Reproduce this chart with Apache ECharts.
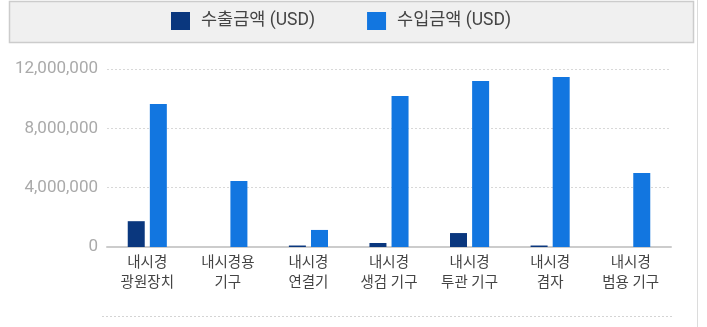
<!DOCTYPE html>
<html>
<head>
<meta charset="utf-8">
<script src="https://cdn.jsdelivr.net/npm/echarts@6/dist/echarts.min.js"></script>
<style>
html,body{margin:0;padding:0;background:#fff;}
#c{width:707px;height:327px;}
</style>
</head>
<body>
<div id="c"></div>
<script>
// Product categories (x axis)
const categories = ['내시경\n광원장치', '내시경용\n기구', '내시경\n연결기', '내시경\n생검 기구', '내시경\n투관 기구', '내시경\n겸자', '내시경\n범용 기구'];
// Export amount (USD)
const exportValues = [1740000, 0, 100000, 270000, 940000, 100000, 0];
// Import amount (USD)
const importValues = [9640000, 4450000, 1150000, 10180000, 11190000, 11460000, 4990000];
const seriesNames = ['수출금액 (USD)', '수입금액 (USD)'];

const FONT = "Roboto, 'Noto Sans CJK KR', sans-serif";
const chart = echarts.init(document.getElementById('c'), null, {renderer: 'canvas'});
chart.setOption({
  animation: false,
  textStyle: {fontFamily: FONT},
  graphic: [
    {type: 'rect', z: -1, shape: {x: 9.5, y: 1.5, width: 684, height: 41},
     style: {fill: '#f0f0f0', stroke: '#cccccc', lineWidth: 1.5}},
    {type: 'line', shape: {x1: 697.5, y1: 0, x2: 697.5, y2: 327},
     style: {stroke: '#dcdcdc', lineWidth: 1}},
    {type: 'line', shape: {x1: 102, y1: 316.5, x2: 674, y2: 316.5},
     style: {stroke: '#d4d4d4', lineWidth: 1, lineDash: [2, 2]}}
  ],
  legend: {
    top: 12, left: 171, padding: 0,
    itemWidth: 19, itemHeight: 18, itemGap: 52,
    icon: 'rect',
    textStyle: {fontSize: 17.5, color: '#444', fontFamily: FONT, padding: [0, 0, 0, 6]},
    data: seriesNames
  },
  grid: {left: 107, right: 36, top: 69, bottom: 80, containLabel: false},
  xAxis: {
    type: 'category',
    data: categories,
    axisTick: {show: false},
    axisLine: {lineStyle: {color: '#cccccc', width: 2}},
    axisLabel: {fontSize: 14.5, color: '#444', lineHeight: 20, margin: 6, interval: 0, fontFamily: FONT}
  },
  yAxis: {
    type: 'value',
    min: 0, max: 12000000, interval: 4000000,
    axisLine: {show: false},
    axisTick: {show: false},
    splitLine: {lineStyle: {color: '#d8d8d8', type: [2, 2]}},
    axisLabel: {
      fontSize: 17, margin: 9, fontFamily: FONT,
      color: function (v) { return v === 0 ? '#555' : '#aaaaaa'; },
      formatter: function (v) { return v.toLocaleString('en-US'); }
    }
  },
  series: [
    {name: seriesNames[0], type: 'bar', data: exportValues, barWidth: 17, barGap: '30%',
     itemStyle: {color: '#0a377e'}},
    {name: seriesNames[1], type: 'bar', data: importValues, barWidth: 17,
     itemStyle: {color: '#1276e0'}}
  ]
});
</script>
</body>
</html>
